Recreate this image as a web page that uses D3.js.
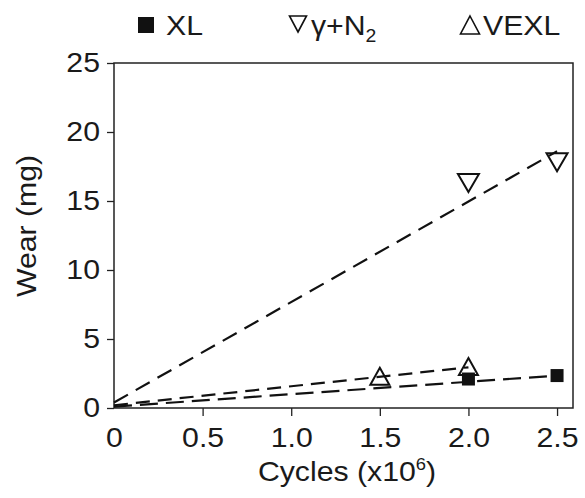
<!DOCTYPE html>
<html>
<head>
<meta charset="utf-8">
<script src="https://cdn.jsdelivr.net/npm/d3@7"></script>
<style>
  body { margin: 0; background: #fff; }
  text { font-family: "Liberation Sans", Arial, sans-serif; fill: #1a1a1a; }
</style>
</head>
<body>
<div id="chart"></div>
<script>
const WIDTH = 585
const HEIGHT = 498
const STRETCH = 1.08

// x values in 10^6 cycles, wear in mg
const xlCycles = [2.0, 2.5]
const xlWear = [2.1, 2.35]
const gammaCycles = [2.0, 2.5]
const gammaWear = [16.3, 17.8]
const vexlCycles = [1.5, 2.0]
const vexlWear = [2.3, 3.0]

// dashed fit lines: [start, end] points
const xlFit = [[0, 0.1], [2.5, 2.35]]
const gammaFit = [[0, 0.4], [2.5, 18.6]]
const vexlFit = [[0, 0.2], [2.0, 2.95]]

const xTicks = [0, 0.5, 1.0, 1.5, 2.0, 2.5]
const xTickLabels = ["0", "0.5", "1.0", "1.5", "2.0", "2.5"]
const yTicks = [0, 5, 10, 15, 20, 25]

const margin = { top: 63, right: 12, bottom: 90, left: 114 }

const svg = d3.select('#chart')
  .append('svg')
  .attr('width', WIDTH)
  .attr('height', HEIGHT)

// the source font is a little wider than Liberation Sans
const stretch = (sel) => sel.each(function () {
  const t = d3.select(this)
  const tx = +t.attr('x') || 0
  const ty = +t.attr('y') || 0
  const rot = t.attr('data-rot') || ''
  t.attr('x', 0).attr('y', 0)
    .attr('transform', `translate(${tx},${ty}) ${rot} scale(${STRETCH},1)`)
})

const x = d3.scaleLinear()
  .domain([0, 2.59])
  .range([margin.left, WIDTH - margin.right])

const y = d3.scaleLinear()
  .domain([0, 25])
  .range([HEIGHT - margin.bottom, margin.top])

const xAxis = d3.axisBottom(x)
  .tickValues(xTicks)
  .tickFormat((d, i) => xTickLabels[i])
  .tickSizeInner(8)
  .tickSizeOuter(0)
  .tickPadding(11)

const yAxis = d3.axisLeft(y)
  .tickValues(yTicks)
  .tickSizeInner(7)
  .tickSizeOuter(0)
  .tickPadding(7)

const gx = svg.append('g')
  .attr('transform', `translate(0,${y(0)})`)
  .call(xAxis)

const gy = svg.append('g')
  .attr('transform', `translate(${x(0)},0)`)
  .call(yAxis)

for (const g of [gx, gy]) {
  g.select('.domain').remove()
  g.selectAll('line').attr('stroke', '#222').attr('stroke-width', 1.3)
  g.selectAll('text')
    .attr('font-size', 28)
    .attr('font-family', '"Liberation Sans", Arial, sans-serif')
    .attr('fill', '#1a1a1a')
    .call(stretch)
}
gx.selectAll('.tick').filter(d => d === 0).select('line').remove()

// frame
svg.append('rect')
  .attr('x', x(0))
  .attr('y', y(25))
  .attr('width', x.range()[1] - x(0))
  .attr('height', y(0) - y(25))
  .attr('fill', 'none')
  .attr('stroke', '#222')
  .attr('stroke-width', 1.5)

// fit lines
const line = d3.line().x(d => x(d[0])).y(d => y(d[1]))

const fits = [
  { pts: gammaFit, dash: '16,9' },
  { pts: vexlFit, dash: '14,8' },
  { pts: xlFit, dash: '18,8' }
]

svg.selectAll('path.fit')
  .data(fits)
  .join('path')
  .attr('class', 'fit')
  .attr('d', d => line(d.pts))
  .attr('fill', 'none')
  .attr('stroke', '#111')
  .attr('stroke-width', 2.2)
  .attr('stroke-dasharray', d => d.dash)

// markers
const triUp = (w, h) => `M0,${-h / 2}L${w / 2},${h / 2}L${-w / 2},${h / 2}Z`
const triDown = (w, h) => `M0,${h / 2}L${w / 2},${-h / 2}L${-w / 2},${-h / 2}Z`

svg.selectAll('path.gamma')
  .data(d3.zip(gammaCycles, gammaWear))
  .join('path')
  .attr('class', 'gamma')
  .attr('transform', d => `translate(${x(d[0])},${y(d[1])})`)
  .attr('d', triDown(21, 18))
  .attr('fill', 'none')
  .attr('stroke', '#111')
  .attr('stroke-width', 2)

svg.selectAll('path.vexl')
  .data(d3.zip(vexlCycles, vexlWear))
  .join('path')
  .attr('class', 'vexl')
  .attr('transform', d => `translate(${x(d[0])},${y(d[1])})`)
  .attr('d', triUp(19, 17))
  .attr('fill', 'none')
  .attr('stroke', '#111')
  .attr('stroke-width', 2)

svg.selectAll('rect.xl')
  .data(d3.zip(xlCycles, xlWear))
  .join('rect')
  .attr('class', 'xl')
  .attr('x', d => x(d[0]) - 6.5)
  .attr('y', d => y(d[1]) - 6.5)
  .attr('width', 13)
  .attr('height', 13)
  .attr('fill', '#111')

// legend
const legend = svg.append('g')
legend.append('rect')
  .attr('x', 138).attr('y', 17).attr('width', 16).attr('height', 16)
  .attr('fill', '#111')
legend.append('text')
  .attr('x', 166).attr('y', 35).attr('font-size', 28).text('XL')

legend.append('path')
  .attr('transform', 'translate(298,24)')
  .attr('d', triDown(17, 16))
  .attr('fill', 'none').attr('stroke', '#111').attr('stroke-width', 1.6)
const gt = legend.append('text')
  .attr('x', 311).attr('y', 35).attr('font-size', 28)
gt.append('tspan').text('γ+N')
gt.append('tspan').attr('font-size', 18).attr('dy', 7).text('2')

legend.append('path')
  .attr('transform', 'translate(470,25)')
  .attr('d', triUp(19, 18))
  .attr('fill', 'none').attr('stroke', '#111').attr('stroke-width', 1.6)
legend.append('text')
  .attr('x', 483).attr('y', 35).attr('font-size', 28).text('VEXL')

legend.selectAll('text').call(stretch)

// axis titles
const xt = svg.append('text')
  .attr('x', 347).attr('y', 481)
  .attr('text-anchor', 'middle')
  .attr('font-size', 28)
xt.append('tspan').text('Cycles (x10')
xt.append('tspan').attr('font-size', 17).attr('dy', -11).text('6')
xt.append('tspan').attr('dy', 11).text(')')
xt.call(stretch)

svg.append('text')
  .attr('x', 36).attr('y', 226)
  .attr('data-rot', 'rotate(-90)')
  .attr('text-anchor', 'middle')
  .attr('font-size', 28)
  .text('Wear (mg)')
  .call(stretch)
</script>
</body>
</html>
